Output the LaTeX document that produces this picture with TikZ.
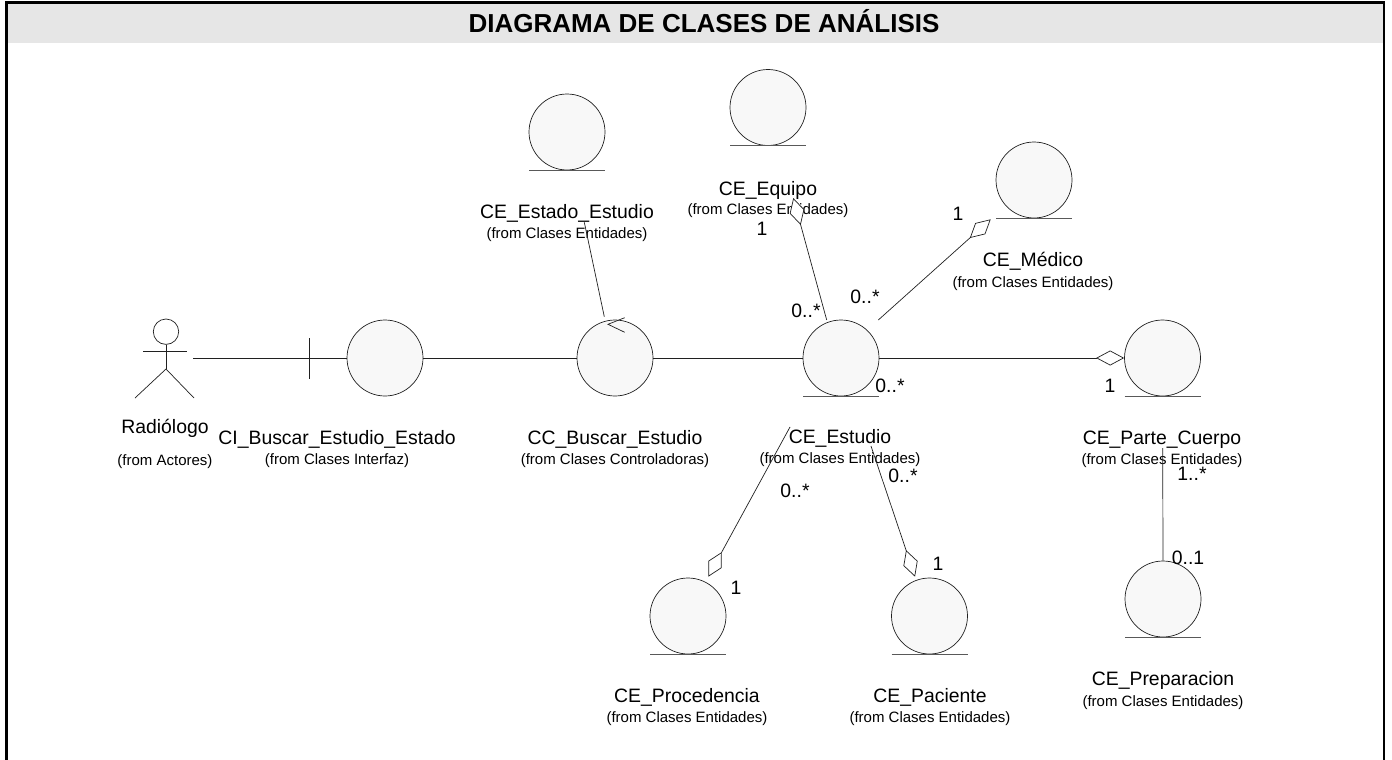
\documentclass[tikz,border=0pt]{standalone}
\usepackage{fontspec}
\setmainfont{Liberation Sans}
\usetikzlibrary{arrows.meta}
\definecolor{bubble}{HTML}{F8F8F8}
\definecolor{band}{HTML}{E6E6E6}
\definecolor{ink}{HTML}{202020}
\begin{document}
\begin{tikzpicture}[x=1pt,y=-1pt,
  cls/.style={circle, draw=ink, fill=bubble, line width=0.7pt, minimum size=76pt, inner sep=0pt},
  groundline/.style={draw=black!65, line width=0.9pt},
  clsname/.style={anchor=base, yshift=-7pt, inner sep=0pt, font=\fontsize{19.4}{22}\selectfont},
  pkgtext/.style={anchor=base, yshift=-5.3pt, inner sep=0pt, font=\fontsize{15}{18}\selectfont},
  multlbl/.style={anchor=base, yshift=-7pt, inner sep=0pt, font=\fontsize{19.4}{22}\selectfont},
  link/.style={draw=ink, line width=0.7pt},
  agg/.style={link, -{Diamond[fill=white, length=28pt, width=15pt, line width=0.7pt]}}]
\useasboundingbox (0,0) rectangle (1392,760);

% frame and title band
\fill[band] (7,3) rectangle (1384,43);
\draw[line width=2.2pt] (6.5,760) -- (6.5,2.5) -- (1384,2.5) -- (1384,760);
\node[anchor=base, inner sep=0pt, font=\bfseries\fontsize{26}{30}\selectfont] (title) at (704,33) {DIAGRAMA DE CLASES DE ANÁLISIS};

% actor
\node[circle, draw=ink, line width=0.7pt, minimum size=25.4pt, inner sep=0pt] (head) at (166,331.7) {};
\draw[link] (143,351.7) -- (186.7,351.7);
\draw[link] (head.south) -- (166,369) coordinate (hip);
\draw[link] (135,398) -- (hip) -- (194,398);
\coordinate (hand) at (193,358);
\node[clsname] (actorname) at (165,426) {Radiólogo};
\node[pkgtext] (actorpkg) at (165,460) {(from Actores)};

% classes
\node[cls] (ci) at (385,358) {};
\node[cls] (cc) at (615,358) {};
\node[cls] (estado) at (567,132) {};
\node[cls] (equipo) at (768,107.5) {};
\node[cls] (medico) at (1034,180) {};
\node[cls] (est) at (841,358) {};
\node[cls] (parte) at (1162.5,358) {};
\node[cls] (prep) at (1163,599) {};
\node[cls] (proc) at (688,616) {};
\node[cls] (pac) at (929.5,616) {};

% entity ground lines
\foreach \e in {estado,equipo,medico,est,parte,prep,proc,pac}
  \draw[groundline] ([xshift=-38pt]\e.south) -- ([xshift=38pt]\e.south);

% boundary bar and control arrow
\draw[link] (309,338) -- (309,379);
\draw[link] (624.7,317.7) -- (608,324.3) -- (624.7,332.3);

% class names
\node[clsname] (ciname) at (337,437) {CI\_Buscar\_Estudio\_Estado};
\node[pkgtext] (cipkg) at (337,459) {(from Clases Interfaz)};
\node[clsname] (ccname) at (615,437) {CC\_Buscar\_Estudio};
\node[pkgtext] (ccpkg) at (615,459) {(from Clases Controladoras)};
\node[clsname] (estadoname) at (567,211) {CE\_Estado\_Estudio};
\node[pkgtext] (estadopkg) at (567,233) {(from Clases Entidades)};
\node[clsname] (equiponame) at (768,188) {CE\_Equipo};
\node[pkgtext] (equipopkg) at (768,209) {(from Clases Entidades)};
\node[clsname] (mediconame) at (1033,259) {CE\_Médico};
\node[pkgtext] (medicopkg) at (1033,282) {(from Clases Entidades)};
\node[clsname] (estname) at (840,436) {CE\_Estudio};
\node[pkgtext] (estpkg) at (840,458) {(from Clases Entidades)};
\node[clsname] (partename) at (1162,437) {CE\_Parte\_Cuerpo};
\node[pkgtext] (partepkg) at (1162,459) {(from Clases Entidades)};
\node[clsname] (procname) at (687,695) {CE\_Procedencia};
\node[pkgtext] (procpkg) at (687,717) {(from Clases Entidades)};
\node[clsname] (pacname) at (930,695) {CE\_Paciente};
\node[pkgtext] (pacpkg) at (930,717) {(from Clases Entidades)};
\node[clsname] (prepname) at (1163,678) {CE\_Preparacion};
\node[pkgtext] (preppkg) at (1163,701) {(from Clases Entidades)};

% connector ends
\coordinate (estadoEnd) at (584.3,222.3);
\coordinate (ccTop) at (604.3,316.7);
\coordinate (estEq) at (826.7,320);
\coordinate (equipoTip) at (793.3,198);
\coordinate (estMed) at (878.3,320);
\coordinate (medicoTip) at (990.7,219.3);
\coordinate (estProc) at (790,427);
\coordinate (procTip) at (708.3,576.7);
\coordinate (estPac) at (871,446);
\coordinate (pacTip) at (915,576.7);
\coordinate (parteLow) at (1162.7,448);

% connectors
\draw[link] (hand) -- (ci.west);
\draw[link] (ci.east) -- (cc.west);
\draw[link] (cc.east) -- (est.west);
\draw[link] (estadoEnd) -- (ccTop);
\draw[agg] (estEq) -- (equipoTip);
\draw[agg] (estMed) -- (medicoTip);
\draw[agg] (est.east) -- (parte.west);
\draw[agg] (estProc) -- (procTip);
\draw[agg] (estPac) -- (pacTip);
\draw[link] (parteLow) -- (prep.north);

% multiplicities
\node[multlbl] (m1) at (762,228) {1};
\node[multlbl] (m2) at (806,310) {0..*};
\node[multlbl] (m3) at (865,296) {0..*};
\node[multlbl] (m4) at (958,213) {1};
\node[multlbl] (m5) at (890,385) {0..*};
\node[multlbl] (m6) at (1110,385) {1};
\node[multlbl] (m7) at (1192,473) {1..*};
\node[multlbl] (m8) at (1188,557) {0..1};
\node[multlbl] (m9) at (795,490) {0..*};
\node[multlbl] (m10) at (736,587) {1};
\node[multlbl] (m11) at (903,475) {0..*};
\node[multlbl] (m12) at (938,563) {1};
\end{tikzpicture}
\end{document}
